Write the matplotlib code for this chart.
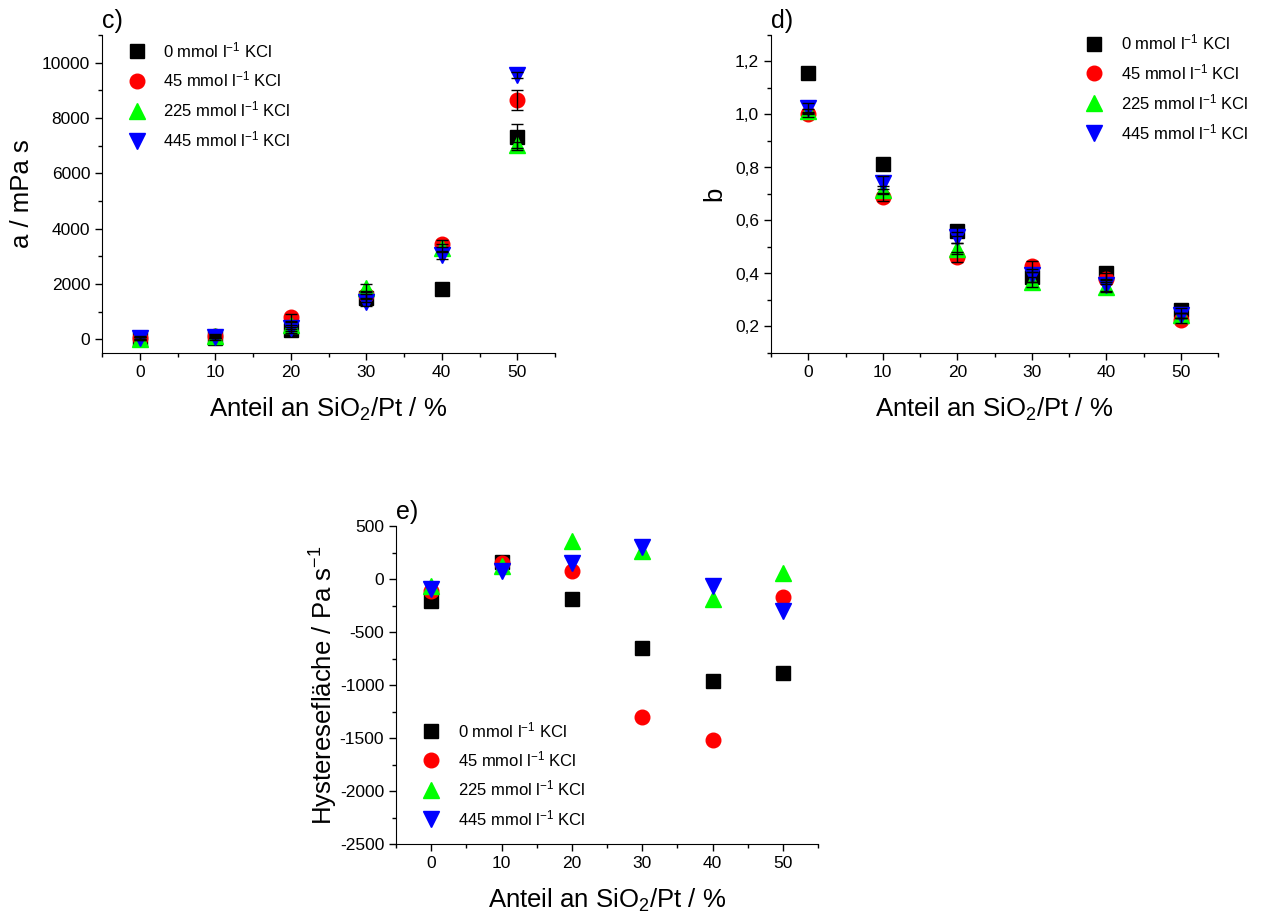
import numpy as np
import matplotlib
matplotlib.use("Agg")
import matplotlib.pyplot as plt
from matplotlib.ticker import MultipleLocator, FuncFormatter

plt.rcParams['font.family'] = ['Liberation Sans', 'DejaVu Sans']
plt.rcParams['mathtext.fontset'] = 'custom'
plt.rcParams['mathtext.rm'] = 'Liberation Sans'
plt.rcParams['mathtext.it'] = 'Liberation Sans:italic'
plt.rcParams['mathtext.bf'] = 'Liberation Sans:bold'
plt.rcParams['axes.unicode_minus'] = False

# Anteil an SiO2/Pt in %
anteil = [0, 10, 20, 30, 40, 50]

# Legenden (KCl-Konzentrationen)
labels = [r"0 mmol l$^{\mathrm{-1}}$ KCl", r"45 mmol l$^{\mathrm{-1}}$ KCl",
          r"225 mmol l$^{\mathrm{-1}}$ KCl", r"445 mmol l$^{\mathrm{-1}}$ KCl"]

# c) Parameter a / mPa s
a_0 = [20, 30, 330, 1480, 1800, 7300]
a_45 = [60, 110, 790, 1590, 3450, 8650]
a_225 = [20, 100, 500, 1840, 3290, 7020]
a_445 = [40, 80, 400, 1350, 3040, 9560]
a_err_0 = [60, 60, 120, 150, 120, 470]
a_err_45 = [50, 60, 120, 150, 120, 360]
a_err_225 = [50, 50, 120, 150, 150, 100]
a_err_445 = [50, 50, 120, 150, 150, 100]

# d) Parameter b
b_0 = [1.157, 0.813, 0.561, 0.387, 0.400, 0.261]
b_45 = [1.000, 0.690, 0.463, 0.427, 0.381, 0.223]
b_225 = [1.012, 0.715, 0.494, 0.368, 0.349, 0.242]
b_445 = [1.025, 0.743, 0.536, 0.393, 0.355, 0.242]
b_err_0 = [0.010, 0.010, 0.020, 0.020, 0.020, 0.010]
b_err_45 = [0.010, 0.015, 0.020, 0.020, 0.020, 0.010]
b_err_225 = [0.010, 0.015, 0.020, 0.020, 0.020, 0.010]
b_err_445 = [0.020, 0.025, 0.020, 0.025, 0.020, 0.010]

# e) Hysteresefläche / Pa s^-1
h_0 = [-210, 160, -192, -654, -959, -883]
h_45 = [-110, 150, 79, -1305, -1518, -167]
h_225 = [-70, 120, 360, 260, -190, 54]
h_445 = [-90, 80, 148, 300, -66, -299]

colors = ['black', 'red', '#00ff00', 'blue']
markers = ['s', 'o', '^', 'v']
msizes = [10, 10.5, 11, 11]

W, H = 1270, 913
fig = plt.figure(figsize=(W / 100, H / 100), dpi=100)


def ax_rect(l, r, t, b):
    return [l / W, 1 - b / H, (r - l) / W, (b - t) / H]


def style_axis(ax):
    ax.spines['top'].set_visible(False)
    ax.spines['right'].set_visible(False)
    ax.tick_params(which='both', direction='out', labelsize=12.5, width=1)
    ax.tick_params(which='major', length=5)
    ax.tick_params(which='minor', length=3)
    ax.set_xlim(-5, 55)
    ax.xaxis.set_major_locator(MultipleLocator(10))
    ax.xaxis.set_minor_locator(MultipleLocator(5))
    ax.set_xlabel(r"Anteil an SiO$_{\mathrm{2}}$/Pt / %", fontsize=18.5, labelpad=11.5)


def draw_series(ax, ys, errs):
    for i in range(4):
        ax.plot(anteil, ys[i], linestyle='none', marker=markers[i], color=colors[i],
                markersize=msizes[i], label=labels[i], zorder=2 + i)
    if errs is not None:
        for i in range(4):
            ax.errorbar(anteil, ys[i], yerr=errs[i], fmt='none', ecolor='black',
                        elinewidth=1, capsize=4, capthick=1, zorder=10)


def add_legend(ax, loc, anchor, spacing=0.6):
    ax.legend(loc=loc, bbox_to_anchor=anchor, frameon=False, fontsize=12,
              handlelength=1.0, handletextpad=1.1, labelspacing=spacing,
              borderaxespad=0, borderpad=0)


def panel_label(ax, txt, dx, dy):
    ax.annotate(txt, xy=(0, 1), xycoords='axes fraction', xytext=(dx, dy),
                textcoords='offset pixels', fontsize=18, va='bottom', ha='left')


# c)
ax1 = fig.add_axes(ax_rect(102, 555, 35, 353))
draw_series(ax1, [a_0, a_45, a_225, a_445], [a_err_0, a_err_45, a_err_225, a_err_445])
style_axis(ax1)
ax1.set_ylim(-500, 11000)
ax1.yaxis.set_major_locator(MultipleLocator(2000))
ax1.yaxis.set_minor_locator(MultipleLocator(1000))
ax1.set_ylabel("a / mPa s", fontsize=18.5, labelpad=6)
add_legend(ax1, 'upper left', (0.058, 0.984))
panel_label(ax1, "c)", 0, 2)

# d)
ax2 = fig.add_axes(ax_rect(771, 1218, 35, 353))
draw_series(ax2, [b_0, b_45, b_225, b_445], [b_err_0, b_err_45, b_err_225, b_err_445])
style_axis(ax2)
ax2.set_ylim(0.1, 1.3)
ax2.yaxis.set_major_locator(MultipleLocator(0.2))
ax2.yaxis.set_minor_locator(MultipleLocator(0.1))
ax2.yaxis.set_major_formatter(FuncFormatter(lambda v, p: f"{v:.1f}".replace('.', ',')))
ax2.set_ylabel("b", fontsize=18.5, labelpad=6)
add_legend(ax2, 'upper left', (0.704, 1.008))
panel_label(ax2, "d)", 0, 2)

# e)
ax3 = fig.add_axes(ax_rect(396, 818, 526, 844))
draw_series(ax3, [h_0, h_45, h_225, h_445], None)
style_axis(ax3)
ax3.set_ylim(-2500, 500)
ax3.yaxis.set_major_locator(MultipleLocator(500))
ax3.yaxis.set_minor_locator(MultipleLocator(250))
ax3.set_ylabel(r"Hysteresefläche / Pa s$^{\mathrm{-1}}$", fontsize=18.5, labelpad=0)
add_legend(ax3, 'lower left', (0.063, 0.05), spacing=0.57)
panel_label(ax3, "e)", 0, 2)

fig.savefig("out.png", dpi=100)
